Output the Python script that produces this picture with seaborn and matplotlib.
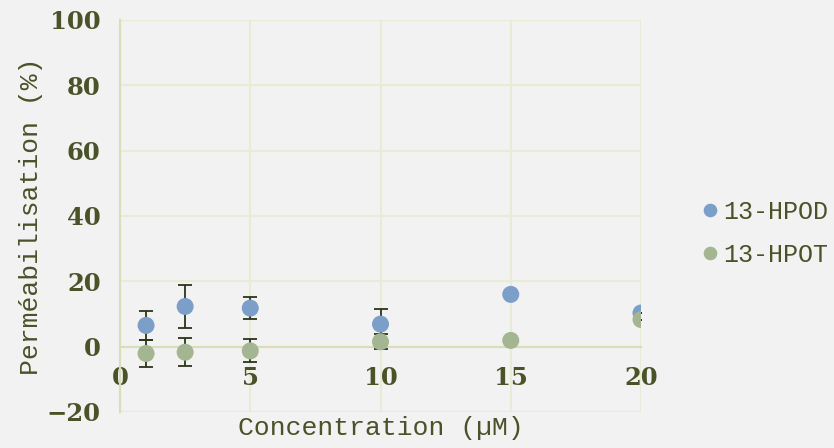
import pandas as pd
import matplotlib.pyplot as plt
import seaborn as sns

# Data
concentration = [1, 2.5, 5, 10, 15, 20]
hpod_mean = [6.5, 12.3, 11.8, 6.9, 16.0, 10.3]
hpod_err = [4.4, 6.5, 3.3, 4.6, 0.5, 0.0]
hpot_mean = [-2.1, -1.7, -1.3, 1.5, 1.9, 8.3]
hpot_err = [4.1, 4.2, 3.5, 2.3, 0.0, 0.0]
series_names = ['13-HPOD', '13-HPOT']

df = pd.DataFrame({
    'Concentration': concentration * 2,
    'Perm': hpod_mean + hpot_mean,
    'Err': hpod_err + hpot_err,
    'Serie': [series_names[0]] * len(concentration) + [series_names[1]] * len(concentration),
})

bg = '#f2f2f2'
text_col = '#4a5228'
grid_col = '#e8ebd6'
colors = {'13-HPOD': '#7b9fc9', '13-HPOT': '#a3b591'}

sns.set_theme(style='white')
plt.rcParams['font.family'] = ['DejaVu Serif']

fig = plt.figure(figsize=(8.34, 4.48), dpi=100, facecolor=bg)
ax = fig.add_axes([0.1439, 0.0804, 0.6247, 0.875], facecolor=bg)

# error bars behind the markers
for name in series_names:
    sub = df[df['Serie'] == name]
    ax.errorbar(sub['Concentration'], sub['Perm'], yerr=sub['Err'], fmt='none',
                ecolor='#2c3418', elinewidth=1.3, capsize=5, capthick=1.3, zorder=3)

sns.scatterplot(data=df, x='Concentration', y='Perm', hue='Serie', palette=colors,
                s=150, linewidth=0, alpha=1, ax=ax, zorder=4)

ax.set_xlim(0, 20)
ax.set_ylim(-20, 100)
ax.set_xticks([0, 5, 10, 15, 20])
ax.set_yticks([-20, 0, 20, 40, 60, 80, 100])
ax.set_yticklabels(['\u221220', '0', '20', '40', '60', '80', '100'])
ax.grid(True, color=grid_col, linewidth=1.5, zorder=0)
ax.set_axisbelow(True)

for s in ['top', 'right']:
    ax.spines[s].set_visible(False)
ax.spines['left'].set_color('#d9ddb8')
ax.spines['left'].set_linewidth(1.5)
ax.spines['bottom'].set_position(('data', 0))
ax.spines['bottom'].set_color('#d9ddb8')
ax.spines['bottom'].set_linewidth(1.5)

ax.tick_params(axis='both', length=0, labelsize=17.5, labelcolor=text_col)
ax.tick_params(axis='x', pad=14)
ax.tick_params(axis='y', pad=14)
for lab in ax.get_xticklabels() + ax.get_yticklabels():
    lab.set_fontweight('bold')

ax.set_xlabel('Concentration (\u00b5M)', family='Liberation Mono', fontsize=19,
              color=text_col, labelpad=0)
ax.xaxis.set_label_coords(0.5, -0.01)
ax.set_ylabel('Perméabilisation (%)', family='Liberation Mono', fontsize=19,
              color=text_col)
ax.yaxis.set_label_coords(-0.148, 0.5)

leg = ax.legend(title=None, loc='center left', bbox_to_anchor=(1.07, 0.455),
                frameon=False, handletextpad=0.15, handlelength=0.8, labelspacing=0.75,
                prop={'family': 'Liberation Mono', 'size': 18}, markerscale=0.8)
for t in leg.get_texts():
    t.set_color(text_col)

plt.savefig('out.png', dpi=100, facecolor=bg)
